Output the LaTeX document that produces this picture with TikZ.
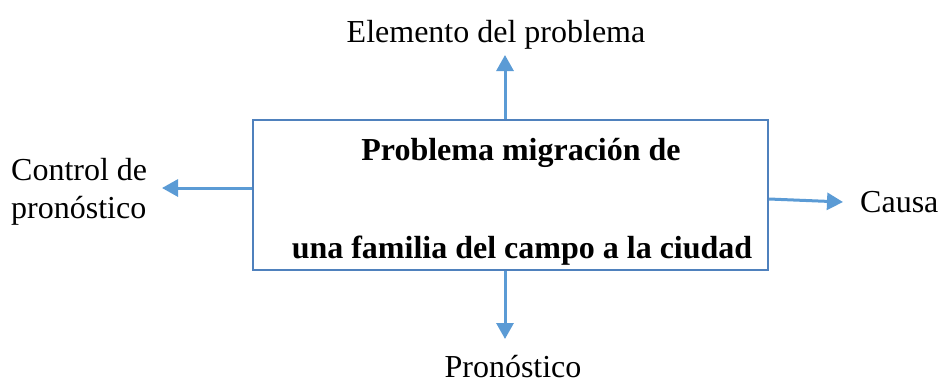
\documentclass[tikz,border=0pt]{standalone}
\usepackage{fontspec}
\setmainfont{Liberation Serif}
\usetikzlibrary{arrows.meta,calc}
\definecolor{boxblue}{HTML}{4F81BD}
\definecolor{arrblue}{HTML}{5B9BD5}
\tikzset{
  lbl/.style={inner sep=0pt,font=\fontsize{32}{38}\selectfont},
  ttl/.style={inner sep=0pt,font=\fontsize{32}{38}\selectfont\bfseries},
  arr/.style={draw=arrblue,line width=3pt,-{Triangle[width=17pt,length=16pt]}},
  mainbox/.style={draw=boxblue,line width=2pt,minimum width=515pt,minimum height=150pt,inner sep=0pt}
}
\begin{document}
\begin{tikzpicture}[x=1pt,y=-1pt]
\useasboundingbox (0,0) rectangle (942,384);
\node[mainbox] (box) at (510.5,195) {};
\node[ttl,anchor=base] (t1) at (521,160) {Problema migración de};
\node[ttl,anchor=base] (t2) at (522,258) {una familia del campo a la ciudad};
\node[lbl,anchor=base] (elem) at (496,42) {Elemento del problema};
\node[lbl,anchor=base] (pron) at (513,377) {Pronóstico};
\node[lbl,anchor=base west] (causa) at (860,212) {Causa};
\node[lbl,anchor=west,align=left] (ctrl) at (11,192) {Control de\\pronóstico};
\coordinate (topEnd) at (505,55);
\coordinate (botEnd) at (505,339);
\coordinate (leftEnd) at (162,188);
\coordinate (rightStart) at (768,199);
\coordinate (rightEnd) at (843,202);
\draw[arr] (box.north -| topEnd) -- (topEnd);
\draw[arr] (box.south -| botEnd) -- (botEnd);
\draw[arr] (box.west |- leftEnd) -- (leftEnd);
\draw[arr] (box.east |- rightStart) -- (rightEnd);
\end{tikzpicture}
\end{document}
